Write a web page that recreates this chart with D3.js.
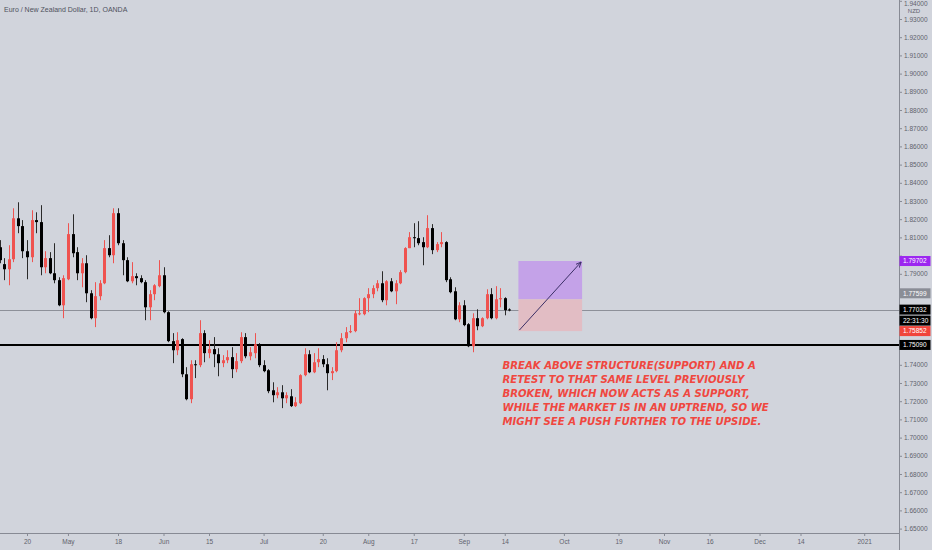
<!DOCTYPE html>
<html><head><meta charset="utf-8">
<script src="https://cdn.jsdelivr.net/npm/d3@7"></script>
<style>html,body{margin:0;padding:0;background:#d1d4dc;overflow:hidden}svg{display:block}</style>
</head><body><svg id="c" width="932" height="550"></svg>
<script>
// ---------- data ----------
const title = "Euro / New Zealand Dollar, 1D, OANDA";
const startDate = "2020-04-10"; // first daily bar (trading days Mon–Fri)
const opens = [1.8046,1.7953,1.7925,1.7980,1.8205,1.8162,1.8024,1.7991,1.8195,1.8184,
1.7936,1.7986,1.7903,1.7865,1.7727,1.7870,1.8118,1.8019,1.7903,1.7958,
1.7793,1.7656,1.7777,1.7848,1.8041,1.8002,1.8233,1.8068,1.7975,1.7859,
1.7887,1.7876,1.7854,1.7716,1.7788,1.7832,1.7892,1.7689,1.7530,1.7480,
1.7541,1.7348,1.7211,1.7403,1.7398,1.7574,1.7464,1.7486,1.7458,1.7409,
1.7425,1.7442,1.7376,1.7420,1.7552,1.7447,1.7464,1.7513,1.7398,1.7370,
1.7260,1.7233,1.7249,1.7216,1.7227,1.7173,1.7189,1.7343,1.7458,1.7359,
1.7414,1.7431,1.7403,1.7354,1.7365,1.7480,1.7546,1.7579,1.7585,1.7678,
1.7678,1.7766,1.7788,1.7821,1.7848,1.7755,1.7859,1.7804,1.7848,1.7909,
1.8041,1.8101,1.8096,1.8074,1.8046,1.8151,1.8030,1.8063,1.8074,1.7870,
1.7804,1.7650,1.7727,1.7623,1.7502,1.7656,1.7612,1.7656,1.7788,1.7656,
1.7760,1.7766,1.7704];
const highs = [1.8085,1.7986,1.8057,1.8260,1.8293,1.8195,1.8085,1.8249,1.8238,1.8277,
1.8024,1.8019,1.8068,1.7881,1.7892,1.8178,1.8227,1.8046,1.7986,1.8002,
1.7810,1.7854,1.7865,1.8085,1.8112,1.8260,1.8260,1.8085,1.7991,1.7964,
1.7903,1.7892,1.7865,1.7810,1.7843,1.7975,1.7936,1.7694,1.7574,1.7579,
1.7546,1.7387,1.7425,1.7425,1.7645,1.7590,1.7535,1.7552,1.7491,1.7453,
1.7480,1.7497,1.7464,1.7579,1.7574,1.7497,1.7574,1.7519,1.7425,1.7376,
1.7304,1.7277,1.7288,1.7249,1.7266,1.7222,1.7348,1.7491,1.7480,1.7464,
1.7491,1.7453,1.7436,1.7387,1.7524,1.7574,1.7607,1.7618,1.7700,1.7766,
1.7771,1.7821,1.7837,1.7865,1.7914,1.7865,1.7876,1.7865,1.7920,1.8046,
1.8129,1.8178,1.8189,1.8101,1.8222,1.8173,1.8074,1.8129,1.8079,1.7881,
1.7826,1.7744,1.7755,1.7629,1.7683,1.7705,1.7661,1.7815,1.7821,1.7832,
1.7821,1.7771,1.7710];
const lows = [1.7958,1.7865,1.7837,1.7964,1.8123,1.7986,1.7870,1.7964,1.8123,1.7892,
1.7903,1.7898,1.7848,1.7722,1.7656,1.7865,1.7991,1.7865,1.7826,1.7744,
1.7650,1.7607,1.7755,1.7843,1.7991,1.7958,1.8057,1.7892,1.7854,1.7848,
1.7837,1.7848,1.7645,1.7645,1.7755,1.7826,1.7683,1.7524,1.7409,1.7453,
1.7332,1.7205,1.7189,1.7327,1.7387,1.7414,1.7436,1.7387,1.7337,1.7387,
1.7409,1.7327,1.7359,1.7409,1.7436,1.7425,1.7436,1.7387,1.7359,1.7244,
1.7194,1.7216,1.7162,1.7189,1.7168,1.7168,1.7184,1.7337,1.7354,1.7354,
1.7387,1.7387,1.7260,1.7316,1.7359,1.7469,1.7524,1.7574,1.7579,1.7672,
1.7672,1.7689,1.7766,1.7804,1.7744,1.7727,1.7799,1.7733,1.7843,1.7903,
1.8041,1.8046,1.8057,1.7947,1.8041,1.8008,1.8019,1.8046,1.7854,1.7793,
1.7645,1.7634,1.7612,1.7497,1.7469,1.7590,1.7607,1.7650,1.7650,1.7650,
1.7716,1.7672,1.7694];
const closes = [1.7975,1.7925,1.7980,1.8205,1.8162,1.8024,1.7991,1.8195,1.8184,1.7936,
1.7986,1.7903,1.7865,1.7727,1.7876,1.8118,1.8013,1.7903,1.7958,1.7793,
1.7656,1.7777,1.7848,1.8041,1.8002,1.8233,1.8068,1.7975,1.7859,1.7887,
1.7876,1.7854,1.7716,1.7788,1.7837,1.7892,1.7689,1.7530,1.7480,1.7535,
1.7348,1.7211,1.7403,1.7398,1.7574,1.7464,1.7486,1.7458,1.7409,1.7425,
1.7442,1.7376,1.7420,1.7552,1.7447,1.7469,1.7513,1.7398,1.7365,1.7255,
1.7233,1.7249,1.7216,1.7233,1.7173,1.7194,1.7343,1.7458,1.7359,1.7414,
1.7431,1.7403,1.7354,1.7365,1.7480,1.7546,1.7579,1.7585,1.7683,1.7683,
1.7766,1.7788,1.7821,1.7848,1.7755,1.7859,1.7804,1.7848,1.7909,1.8041,
1.8101,1.8096,1.8068,1.8046,1.8151,1.8030,1.8063,1.8074,1.7865,1.7799,
1.7650,1.7727,1.7618,1.7502,1.7656,1.7612,1.7656,1.7788,1.7656,1.7760,
1.7766,1.7700,1.77032];

const timeTickDates = ["2020-04-20","2020-05-01","2020-05-18","2020-06-01","2020-06-15","2020-07-01",
  "2020-07-20","2020-08-03","2020-08-17","2020-09-01","2020-09-14","2020-10-01","2020-10-19",
  "2020-11-01","2020-11-16","2020-12-01","2020-12-14","2021-01-01"];
const timeTickLabels = ["20","May","18","Jun","15","Jul","20","Aug","17","Sep","14","Oct","19","Nov","16","Dec","14","2021"];
const priceTicks = [1.65,1.66,1.67,1.68,1.69,1.70,1.71,1.72,1.73,1.74,1.75,1.76,1.77,1.78,1.79,
  1.80,1.81,1.82,1.83,1.84,1.85,1.86,1.87,1.88,1.89,1.90,1.91,1.92,1.93,1.94];
const currency = "NZD";
const supportLevel = 1.75090;
const lastPrice = 1.77032;
const countdown = "22:31:30";
const posEntry = 1.77599, posTarget = 1.79702, posStop = 1.75852;
const posStart = "2020-09-17", posEnd = "2020-10-07";
const noteLines = ["BREAK ABOVE STRUCTURE(SUPPORT) AND A",
  "RETEST TO THAT SAME LEVEL PREVIOUSLY",
  "BROKEN, WHICH NOW ACTS AS A SUPPORT,",
  "WHILE THE MARKET IS IN AN UPTREND, SO WE",
  "MIGHT SEE A PUSH FURTHER TO THE UPSIDE."];

// ---------- helpers ----------
const parse = d3.utcParse("%Y-%m-%d");
const t0 = parse(startDate);
function bizIndex(ds){
  const d = parse(ds); let n = 0;
  for (let t = t0; t < d; t = d3.utcDay.offset(t, 1)) {
    const w = t.getUTCDay(); if (w !== 0 && w !== 6) n++;
  }
  return n;
}
const bars = opens.map((o,i)=>({i, o, h: highs[i], l: lows[i], c: closes[i]}));

// ---------- layout ----------
const W = 932, H = 550, plotR = 899, plotB = 533;
const svg = d3.select("#c");
svg.append("rect").attr("width",W).attr("height",H).attr("fill","#d1d4dc");

const x = d3.scaleLinear().domain([0, 190]).range([-0.3, -0.3 + 190*4.55]);
const y = d3.scaleLinear().domain([1.64758, 1.94044]).range([plotB, 0]);

const FONT = "'Liberation Sans', Arial, sans-serif";
const axisColor = "#878a94", textColor = "#5f626c";

// plot clip
svg.append("defs").append("clipPath").attr("id","plot")
  .append("rect").attr("x",0).attr("y",0).attr("width",plotR).attr("height",plotB);
const plot = svg.append("g").attr("clip-path","url(#plot)");

// last price line
plot.append("line").attr("x1",0).attr("x2",plotR)
  .attr("y1",Math.round(y(lastPrice))+0.5).attr("y2",Math.round(y(lastPrice))+0.5)
  .attr("stroke","#8d9099").attr("stroke-width",1);

// support line
plot.append("line").attr("x1",0).attr("x2",plotR)
  .attr("y1",y(supportLevel)).attr("y2",y(supportLevel))
  .attr("stroke","#000").attr("stroke-width",2);

// candles
const up = "#ef5350", dn = "#000000";
const cg = plot.append("g");
cg.selectAll("line.wick").data(bars).join("line").attr("class","wick")
  .attr("x1",d=>Math.round(x(d.i))+0.5).attr("x2",d=>Math.round(x(d.i))+0.5)
  .attr("y1",d=>y(d.h)).attr("y2",d=>y(d.l))
  .attr("stroke",d=>d.c>=d.o?up:"#2a2a2a").attr("stroke-width",1);
cg.selectAll("rect.body").data(bars).join("rect").attr("class","body")
  .attr("x",d=>Math.round(x(d.i))-1).attr("width",3)
  .attr("y",d=>y(Math.max(d.o,d.c)))
  .attr("height",d=>Math.max(1, Math.abs(y(d.o)-y(d.c))))
  .attr("fill",d=>d.c>=d.o?up:dn);

// position tool
const px1 = x(bizIndex(posStart)), px2 = x(bizIndex(posEnd));
plot.append("rect").attr("x",px1).attr("width",px2-px1)
  .attr("y",y(posTarget)).attr("height",y(posEntry)-y(posTarget))
  .attr("fill","#c4a2e8");
plot.append("rect").attr("x",px1).attr("width",px2-px1)
  .attr("y",y(posEntry)).attr("height",y(posStop)-y(posEntry))
  .attr("fill","#e2bdc4");
svg.select("defs").append("marker").attr("id","arr").attr("viewBox","0 0 10 10")
  .attr("refX",9).attr("refY",5).attr("markerWidth",6).attr("markerHeight",6)
  .attr("orient","auto").append("path").attr("d","M0,1 L9,5 L0,9").attr("fill","none")
  .attr("stroke","#3b2f66").attr("stroke-width",1.6);
plot.append("line").attr("x1",px1+1).attr("y1",y(posStop)-1)
  .attr("x2",px2-1).attr("y2",y(posTarget)+1)
  .attr("stroke","#3b2f66").attr("stroke-width",1).attr("marker-end","url(#arr)");

// note text
const note = svg.append("text").attr("fill","#f0473f")
  .attr("font-family","'DejaVu Sans', Verdana, sans-serif").attr("font-style","italic")
  .attr("font-weight","bold").attr("font-size","10.15px");
noteLines.forEach((t,k)=>note.append("tspan").attr("x",502.5).attr("y",369+k*14).text(t));

// title
svg.append("text").attr("x",4).attr("y",12).attr("fill","#4f525c")
  .attr("font-family",FONT).attr("font-size","7px").text(title);

// axes lines
svg.append("line").attr("x1",plotR+0.5).attr("x2",plotR+0.5).attr("y1",0).attr("y2",H)
  .attr("stroke",axisColor).attr("stroke-width",1);
svg.append("line").attr("x1",0).attr("x2",plotR).attr("y1",plotB+0.5).attr("y2",plotB+0.5)
  .attr("stroke",axisColor).attr("stroke-width",1);

// price labels on scale (defined before axis to hide covered tick labels)
const labels = [
  {v: posTarget, txt: d3.format(".5f")(posTarget), bg:"#9c27f0", dy:0},
  {v: posEntry, txt: d3.format(".5f")(posEntry), bg:"#8a8d96", dy:-6},
  {v: lastPrice, txt: d3.format(".5f")(lastPrice), bg:"#000", dy:0},
  {v: lastPrice, txt: countdown, bg:"#000", dy:11},
  {v: posStop, txt: d3.format(".5f")(posStop), bg:"#f0453c", dy:0},
  {v: supportLevel, txt: d3.format(".5f")(supportLevel), bg:"#000", dy:0}
];
const labelYs = labels.map(L=>y(L.v)+L.dy);

// y axis
const yAxis = svg.append("g").attr("transform",`translate(${plotR},0)`)
  .call(d3.axisRight(y).tickValues(priceTicks).tickFormat(d3.format(".5f")).tickSize(3).tickPadding(2));
yAxis.select(".domain").remove();
yAxis.selectAll("line").attr("stroke",axisColor);
yAxis.selectAll("text").attr("fill",textColor).attr("font-family",FONT).attr("font-size","6.5px");
yAxis.selectAll(".tick").filter(d=>labelYs.some(ly=>Math.abs(ly-y(d))<9))
  .select("text").remove();
yAxis.selectAll(".tick").filter(d=>y(d)<4).select("text").attr("dy","0.75em");
svg.append("text").attr("x",914).attr("y",13).attr("text-anchor","middle").attr("fill",textColor)
  .attr("font-family",FONT).attr("font-size","6px").text(currency);

// x axis
const xAxis = svg.append("g").attr("transform",`translate(0,${plotB})`)
  .call(d3.axisBottom(x).tickValues(timeTickDates.map(bizIndex))
    .tickFormat((d,k)=>timeTickLabels[k]).tickSize(3).tickPadding(3));
xAxis.select(".domain").remove();
xAxis.selectAll("line").attr("stroke",axisColor);
xAxis.selectAll("text").attr("fill",textColor).attr("font-family",FONT).attr("font-size","6.5px");

const lg = svg.append("g");
labels.forEach((L,k)=>{
  const cy = labelYs[k];
  lg.append("rect").attr("x",plotR+0.5).attr("y",cy-5).attr("width",31).attr("height",10).attr("fill",L.bg);
  lg.append("text").attr("x",plotR+4).attr("y",cy).attr("dy","0.35em").attr("fill","#fff")
    .attr("font-family",FONT).attr("font-size","6.5px").text(L.txt);
});
</script></body></html>
